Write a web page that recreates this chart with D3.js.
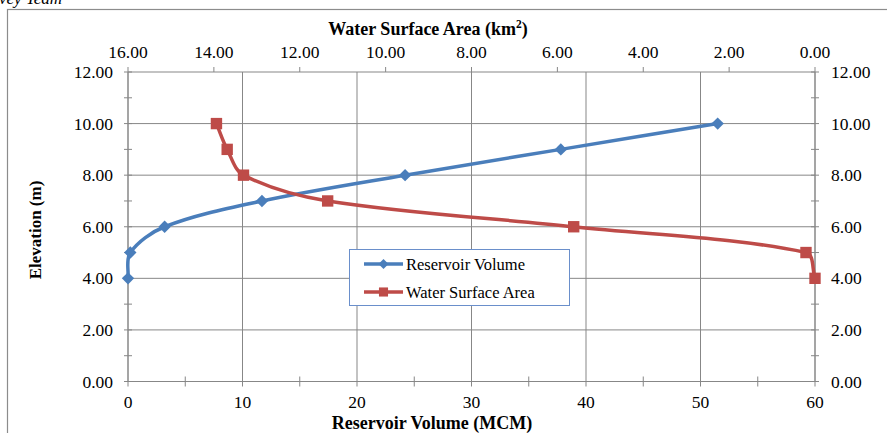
<!DOCTYPE html>
<html><head><meta charset="utf-8">
<script src="https://cdn.jsdelivr.net/npm/d3@7"></script>
<style>
html,body{margin:0;padding:0;background:#fff;overflow:hidden;}
text{font-family:"Liberation Serif","Times New Roman",serif;fill:#000;}
</style></head>
<body>
<svg id="chart" width="887" height="433"></svg>
<script>
// ---- data ----
const elevation = [4, 5, 6, 7, 8, 9, 10];
const volume = [0, 0.2, 3.2, 11.7, 24.2, 37.8, 51.5];      // MCM
const area = [0.0, 0.21, 5.62, 11.35, 13.31, 13.69, 13.94]; // km2
const seriesNames = ["Reservoir Volume", "Water Surface Area"];
const yTicks = [0, 2, 4, 6, 8, 10, 12];
const xTicks = [0, 10, 20, 30, 40, 50, 60];
const topTicks = [16, 14, 12, 10, 8, 6, 4, 2, 0];

// Excel-like smoothed line: chord-weighted Catmull-Rom Bezier
function ExcelCurve(context) { this._context = context; }
ExcelCurve.prototype = {
  areaStart() {}, areaEnd() {},
  lineStart() { this._pts = []; },
  point(x, y) { this._pts.push([+x, +y]); },
  lineEnd() {
    const p = this._pts, c = this._context, n = p.length;
    if (!n) return;
    c.moveTo(p[0][0], p[0][1]);
    if (n === 1) return;
    const dist = (a, b) => Math.hypot(b[0] - a[0], b[1] - a[1]);
    const fwd = [], bwd = [];
    for (let i = 0; i < n; i++) {
      if (i === 0) { fwd[i] = [p[0][0] + (p[1][0] - p[0][0]) / 3, p[0][1] + (p[1][1] - p[0][1]) / 3]; continue; }
      if (i === n - 1) { bwd[i] = [p[i][0] - (p[i][0] - p[i - 1][0]) / 3, p[i][1] - (p[i][1] - p[i - 1][1]) / 3]; continue; }
      const d1 = dist(p[i - 1], p[i]), d2 = dist(p[i], p[i + 1]), s = d1 + d2 || 1;
      const tx = p[i + 1][0] - p[i - 1][0], ty = p[i + 1][1] - p[i - 1][1];
      fwd[i] = [p[i][0] + tx * d2 / s / 3, p[i][1] + ty * d2 / s / 3];
      bwd[i] = [p[i][0] - tx * d1 / s / 3, p[i][1] - ty * d1 / s / 3];
    }
    for (let i = 0; i < n - 1; i++) {
      c.bezierCurveTo(fwd[i][0], fwd[i][1], bwd[i + 1][0], bwd[i + 1][1], p[i + 1][0], p[i + 1][1]);
    }
  }
};
const excelCurve = ctx => new ExcelCurve(ctx);

const svg = d3.select("#chart");
const L = 128, R = 815, T = 72, B = 381.5;
const x = d3.scaleLinear().domain([0, 60]).range([L, R]);
const xTop = d3.scaleLinear().domain([16, 0]).range([L, R]);
const y = d3.scaleLinear().domain([0, 12]).range([B, T]);
const grid = "#878787";
const blue = "#4A7EBB", red = "#BE4B48";

// outer border (clipped)
svg.append("rect").attr("x", 7.5).attr("y", 9.5).attr("width", 900).attr("height", 440)
  .attr("fill", "none").attr("stroke", "#8c8c8c").attr("stroke-width", 1.2);
svg.append("text").attr("x", -1).attr("y", 4).attr("font-style", "italic")
  .attr("font-size", 17).text("vey Team");

// gridlines
const g = svg.append("g");
yTicks.forEach(v => g.append("line").attr("x1", L).attr("x2", R).attr("y1", y(v)).attr("y2", y(v))
  .attr("stroke", grid).attr("stroke-width", 1));
xTicks.forEach(v => g.append("line").attr("x1", x(v)).attr("x2", x(v)).attr("y1", T).attr("y2", B + 5)
  .attr("stroke", grid).attr("stroke-width", 1));

// axes lines
g.append("line").attr("x1", L).attr("x2", L).attr("y1", T).attr("y2", B).attr("stroke", grid);
g.append("line").attr("x1", R).attr("x2", R).attr("y1", T).attr("y2", B).attr("stroke", grid);
d3.range(0, 12.01, 1).forEach(v => {
  [L, R].forEach(ax => g.append("line").attr("x1", ax - 4).attr("x2", ax + 4)
    .attr("y1", y(v)).attr("y2", y(v)).attr("stroke", grid));
});
d3.range(5, 60, 10).forEach(v => g.append("line").attr("x1", x(v)).attr("x2", x(v))
  .attr("y1", B - 5).attr("y2", B + 5).attr("stroke", grid));
topTicks.forEach(v => g.append("line").attr("x1", xTop(v)).attr("x2", xTop(v))
  .attr("y1", T - 5).attr("y2", T).attr("stroke", grid));

// tick labels
const fs = 17.5;
yTicks.forEach(v => {
  svg.append("text").attr("x", 113).attr("y", y(v) + 6).attr("text-anchor", "end")
    .attr("font-size", fs).text(v.toFixed(2));
  svg.append("text").attr("x", 831).attr("y", y(v) + 6).attr("text-anchor", "start")
    .attr("font-size", fs).text(v.toFixed(2));
});
xTicks.forEach(v => svg.append("text").attr("x", x(v)).attr("y", 408).attr("text-anchor", "middle")
  .attr("font-size", fs).text(v));
topTicks.forEach(v => svg.append("text").attr("x", xTop(v)).attr("y", 58).attr("text-anchor", "middle")
  .attr("font-size", fs).text(v.toFixed(2)));

// axis titles
const t1 = svg.append("text").attr("x", 428).attr("y", 35).attr("text-anchor", "middle")
  .attr("font-size", 18).attr("font-weight", "bold");
t1.append("tspan").text("Water Surface Area (km");
t1.append("tspan").attr("font-size", 11.5).attr("dy", -7).text("2");
t1.append("tspan").attr("dy", 7).text(")");
svg.append("text").attr("x", 432).attr("y", 429).attr("text-anchor", "middle")
  .attr("font-size", 18).attr("font-weight", "bold").text("Reservoir Volume (MCM)");
svg.append("text").attr("transform", "translate(41,230) rotate(-90)").attr("text-anchor", "middle")
  .attr("font-size", 17).attr("font-weight", "bold").text("Elevation (m)");

// series
const volPts = elevation.map((e, i) => [x(volume[i]), y(e)]);
const areaPts = elevation.map((e, i) => [xTop(area[i]), y(e)]);
svg.append("path").attr("d", d3.line().curve(excelCurve)(volPts)).attr("fill", "none")
  .attr("stroke", blue).attr("stroke-width", 3.5);
svg.append("path").attr("d", d3.line().curve(excelCurve)(areaPts)).attr("fill", "none")
  .attr("stroke", red).attr("stroke-width", 3.5);
const diamond = d3.symbol().type(d3.symbolDiamond2).size(98);
const square = d3.symbol().type(d3.symbolSquare2).size(165);
volPts.forEach(p => svg.append("path").attr("d", diamond())
  .attr("transform", `translate(${p[0]},${p[1]})`).attr("fill", blue));
areaPts.forEach(p => svg.append("path").attr("d", square())
  .attr("transform", `translate(${p[0]},${p[1]})`).attr("fill", red));

// legend
const lg = svg.append("g");
lg.append("rect").attr("x", 349.5).attr("y", 249.5).attr("width", 220).attr("height", 56)
  .attr("fill", "#fff").attr("stroke", "#6a8fcb").attr("stroke-width", 1);
[[blue, diamond, 264], [red, square, 292]].forEach(([c, sym, yy], i) => {
  lg.append("line").attr("x1", 364).attr("x2", 403).attr("y1", yy).attr("y2", yy)
    .attr("stroke", c).attr("stroke-width", 3.5);
  lg.append("path").attr("d", sym()).attr("transform", `translate(383.5,${yy}) scale(0.8)`)
    .attr("fill", c);
  lg.append("text").attr("x", 406).attr("y", yy + 5.5).attr("font-size", 16.5).text(seriesNames[i]);
});
</script>
</body></html>
